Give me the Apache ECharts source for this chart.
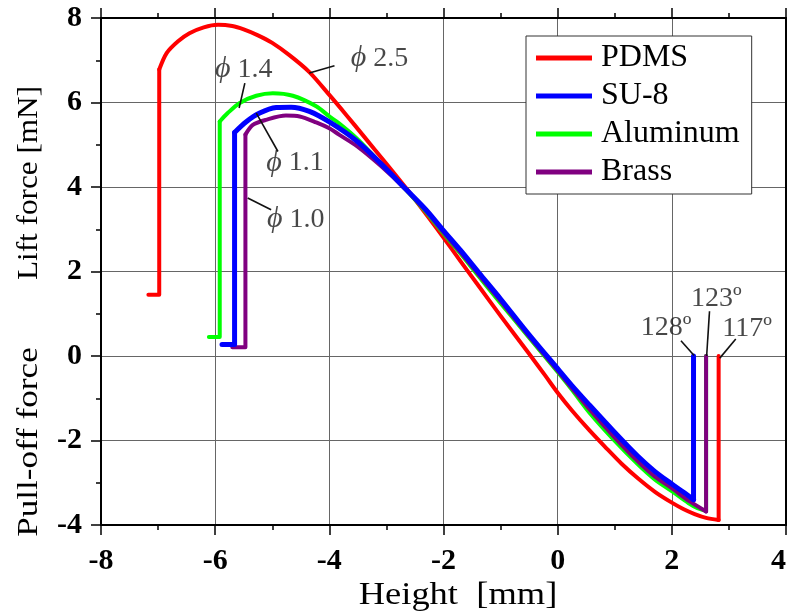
<!DOCTYPE html>
<html>
<head>
<meta charset="utf-8">
<script src="https://cdn.jsdelivr.net/npm/echarts@6/dist/echarts.min.js"></script>
<style>html,body{margin:0;padding:0;background:#fff}#c{width:787px;height:615px}</style>
</head>
<body>
<div id="c"></div>
<script>
// ---- data (Height [mm], Force [mN]) ----
const seriesNames = ['PDMS', 'SU-8', 'Aluminum', 'Brass'];
const xTicks = [-8, -6, -4, -2, 0, 2, 4];
const yTicks = [-4, -2, 0, 2, 4, 6, 8];

const pdms = [[-7.17,1.45],[-6.98,1.45],[-6.98,6.78],[-6.85,7.17],[-6.65,7.45],[-6.45,7.64],[-6.2,7.78],[-5.95,7.84],[-5.7,7.81],[-5.5,7.73],[-5.25,7.59],[-5.0,7.41],[-4.7,7.12],[-4.35,6.72],[-4.0,6.18],[-3.7,5.7],[-3.42,5.24],[-3.0,4.55],[-2.66,3.98],[-2.3,3.35],[-2.02,2.84],[-1.7,2.24],[-1.38,1.65],[-1.0,0.95],[-0.51,0.07],[-0.22,-0.46],[0,-0.87],[0.25,-1.29],[0.55,-1.75],[0.83,-2.15],[1.12,-2.55],[1.41,-2.9],[1.71,-3.22],[2.0,-3.47],[2.2,-3.62],[2.4,-3.74],[2.6,-3.83],[2.82,-3.88],[2.82,0]];
const su8 = [[-5.88,0.27],[-5.66,0.27],[-5.66,5.29],[-5.45,5.55],[-5.22,5.75],[-4.93,5.88],[-4.67,5.89],[-4.35,5.79],[-4.0,5.54],[-3.53,5.1],[-3.1,4.56],[-2.66,3.95],[-2.3,3.45],[-2.02,3.0],[-1.7,2.5],[-1.38,1.97],[-1.0,1.35],[-0.51,0.52],[0,-0.3],[0.25,-0.7],[0.55,-1.15],[0.98,-1.78],[1.41,-2.38],[1.7,-2.73],[2.0,-3.03],[2.2,-3.22],[2.38,-3.4],[2.38,0]];
const aluminum = [[-6.11,0.45],[-5.92,0.45],[-5.92,5.55],[-5.78,5.75],[-5.57,5.99],[-5.28,6.16],[-4.99,6.22],[-4.64,6.16],[-4.23,5.91],[-4.0,5.67],[-3.83,5.51],[-3.51,5.14],[-3.1,4.56],[-2.66,3.94],[-2.3,3.4],[-2.02,2.93],[-1.7,2.42],[-1.38,1.88],[-1.0,1.25],[-0.51,0.45],[0,-0.38],[0.25,-0.8],[0.55,-1.33],[0.98,-1.98],[1.41,-2.57],[1.7,-2.92],[2.0,-3.2],[2.29,-3.48],[2.45,-3.6],[2.6,-3.66],[2.6,0]];
const brass = [[-5.70,0.21],[-5.47,0.21],[-5.47,5.24],[-5.34,5.47],[-5.11,5.59],[-4.76,5.69],[-4.52,5.67],[-4.23,5.53],[-4.0,5.39],[-3.83,5.24],[-3.51,4.96],[-3.1,4.5],[-2.66,3.94],[-2.3,3.42],[-2.02,2.96],[-1.7,2.45],[-1.38,1.92],[-1.0,1.3],[-0.51,0.48],[0,-0.35],[0.25,-0.76],[0.55,-1.25],[0.98,-1.9],[1.41,-2.5],[1.7,-2.85],[2.0,-3.13],[2.3,-3.43],[2.6,-3.68],[2.6,0]];

const annoLabels = ['ϕ 2.5', 'ϕ 1.4', 'ϕ 1.1', 'ϕ 1.0', '128º', '123º', '117º'];
const annoPos = [[-3.12,7.04],[-5.5,6.78],[-4.6,4.57],[-4.59,3.23],[1.9,0.66],[2.78,1.35],[3.32,0.64]];
const annoLines = [
  [[-4.35,6.70],[-3.91,6.87]],
  [[-5.48,6.46],[-5.58,5.87]],
  [[-5.28,5.75],[-4.90,4.84]],
  [[-5.43,3.74],[-5.02,3.46]],
  [[2.16,0.36],[2.39,0.01]],
  [[2.66,1.06],[2.61,0.0]],
  [[3.12,0.40],[2.84,-0.05]]
];

const colors = {PDMS:'#ff0000', 'SU-8':'#0000ff', Aluminum:'#00ff00', Brass:'#800080'};
const widths = {PDMS:4, 'SU-8':5, Aluminum:4, Brass:4};
const dataMap = {PDMS:pdms, 'SU-8':su8, Aluminum:aluminum, Brass:brass};
const drawOrder = ['PDMS', 'Aluminum', 'Brass', 'SU-8'];

const SERIF = '"Liberation Serif", "Times New Roman", serif';

function axisCommon(extra) {
  return Object.assign({
    type: 'value',
    axisLine: {show: true, onZero: false, lineStyle: {color: '#000', width: 2}},
    axisTick: {show: true, inside: false, length: 10, lineStyle: {color: '#000', width: 1.5}},
    minorTick: {show: true, splitNumber: 2, length: 5, lineStyle: {color: '#000', width: 1.5}},
    splitLine: {show: true, lineStyle: {color: '#666', width: 1}},
    minorSplitLine: {show: false}
  }, extra);
}

const series = [];
drawOrder.forEach(n => {
  const d = dataMap[n];
  const base = {
    name: n, type: 'line', showSymbol: false, symbol: 'none', silent: true, z: 3,
    lineStyle: {color: colors[n], width: widths[n], cap: 'round', join: 'round'},
    itemStyle: {color: colors[n]}
  };
  // step at start (horizontal + vertical), smooth curve, final vertical
  series.push(Object.assign({}, base, {data: d.slice(0, 3), smooth: false}));
  series.push(Object.assign({}, base, {data: d.slice(2, d.length - 1), smooth: 0.3}));
  series.push(Object.assign({}, base, {data: d.slice(d.length - 2), smooth: false}));
});
annoLines.forEach((seg, i) => {
  series.push({
    name: 'lead' + i, type: 'line', data: seg, symbol: 'none', silent: true,
    lineStyle: {color: '#111', width: 1.6}, z: 4
  });
});
series.push({
  name: 'labels', type: 'scatter', symbolSize: 1, silent: true, z: 5,
  itemStyle: {color: 'rgba(0,0,0,0)'},
  data: annoPos.map((p, i) => ({value: p, name: annoLabels[i]})),
  label: {
    show: true, position: 'inside', color: '#1a1a1a', fontFamily: SERIF, fontSize: 28,
    formatter: p => p.name.startsWith('ϕ') ? '{i|ϕ}' + p.name.slice(1) : p.name,
    rich: {i: {fontStyle: 'italic', fontFamily: SERIF, fontSize: 30, color: '#1a1a1a'}}
  }
});

const chart = echarts.init(document.getElementById('c'), null, {renderer: 'canvas'});
chart.setOption({
  animation: false,
  backgroundColor: '#fff',
  grid: {left: 101, right: 1, top: 18, bottom: 90, containLabel: false, outerBoundsMode: 'none'},
  xAxis: [
    axisCommon({min: xTicks[0], max: xTicks[xTicks.length-1], interval: 2, position: 'bottom',
      axisLabel: {show: true, margin: 21, color: '#000', fontFamily: SERIF, fontWeight: 'bold', fontSize: 30, alignMaxLabel: 'right'}}),
    axisCommon({min: xTicks[0], max: xTicks[xTicks.length-1], interval: 2, position: 'top',
      axisLabel: {show: false}, splitLine: {show: false}})
  ],
  yAxis: [
    axisCommon({min: yTicks[0], max: yTicks[yTicks.length-1], interval: 2, position: 'left',
      axisLabel: {show: true, margin: 19, color: '#000', fontFamily: SERIF, fontWeight: 'bold', fontSize: 30}}),
    axisCommon({min: yTicks[0], max: yTicks[yTicks.length-1], interval: 2, position: 'right',
      axisLabel: {show: false}, splitLine: {show: false}})
  ],
  legend: {
    data: seriesNames, orient: 'vertical', left: 526, top: 36,
    backgroundColor: '#fff', borderColor: '#333', borderWidth: 1,
    padding: [3, 12, 3, 10], itemGap: 0, itemWidth: 56, itemHeight: 5, icon: 'rect',
    textStyle: {fontFamily: SERIF, fontSize: 32, color: '#000', lineHeight: 38, padding: [0, 0, 0, 4]},
    selectedMode: false
  },
  graphic: [
    {type: 'text', x: 29, y: 183, rotation: Math.PI / 2, scaleX: 1.04,
     style: {text: 'Lift force [mN]', fontFamily: SERIF, fontSize: 30, fill: '#000', align: 'center', verticalAlign: 'middle'}},
    {type: 'text', x: 29, y: 442, rotation: Math.PI / 2, scaleX: 1.17,
     style: {text: 'Pull-off force', fontFamily: SERIF, fontSize: 30, fill: '#000', align: 'center', verticalAlign: 'middle'}},
    {type: 'text', x: 458, y: 596, scaleX: 1.14,
     style: {text: 'Height  [mm]', fontFamily: SERIF, fontSize: 32, fill: '#000', align: 'center', verticalAlign: 'middle'}}
  ],
  series: series
});
</script>
</body>
</html>
